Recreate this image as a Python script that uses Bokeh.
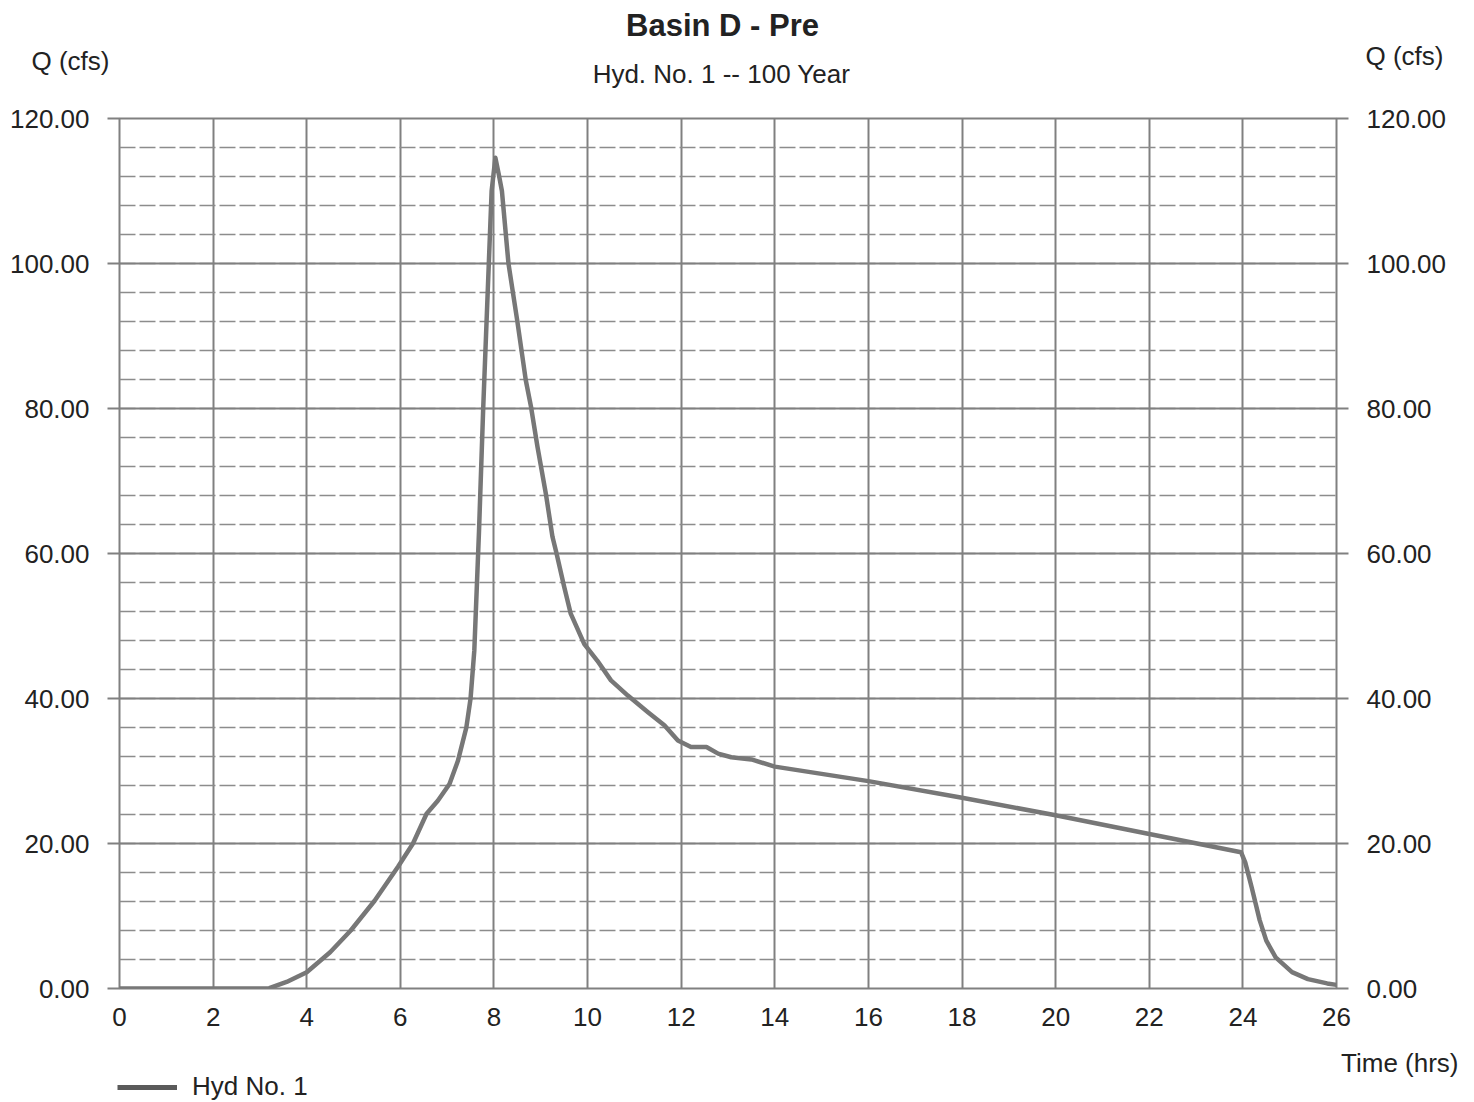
from bokeh.plotting import figure
from bokeh.layouts import column
from bokeh.models import (Range1d, LinearAxis, SingleIntervalTicker, PrintfTickFormatter,
                          Label, Legend, LegendItem, ColumnDataSource)
from bokeh.embed import file_html
from bokeh.resources import INLINE

# Hydrograph ordinates: time (hrs) and discharge Q (cfs)
time_hrs = [0, 1, 2, 3, 3.2, 3.57, 4.0, 4.5, 4.94, 5.45, 5.95, 6.27, 6.56, 6.8, 7.05,
            7.23, 7.41, 7.5, 7.58, 7.68, 7.77, 7.89, 7.95, 8.03, 8.1, 8.17, 8.31, 8.5,
            8.68, 8.79, 8.93, 9.11, 9.25, 9.33, 9.5, 9.64, 9.93, 10.21, 10.5, 10.86,
            11.29, 11.64, 11.93, 12.21, 12.54, 12.79, 13.07, 13.5, 14.0, 16.0, 18.0,
            20.0, 22.0, 23.96, 24.05, 24.19, 24.36, 24.5, 24.7, 25.05, 25.39, 25.8, 26.0]
flow_cfs = [0, 0, 0, 0, 0.05, 0.9, 2.25, 5.0, 8.0, 12.1, 16.8, 20.0, 24.1, 25.9, 28.2,
            31.4, 36.0, 40.0, 46.6, 63.0, 80.0, 100.0, 110.0, 114.6, 112.4, 110.0, 100.0, 92.0,
            83.9, 80.3, 74.7, 68.2, 62.3, 60.2, 55.4, 51.7, 47.5, 45.2, 42.5, 40.4,
            38.1, 36.3, 34.2, 33.3, 33.3, 32.4, 31.9, 31.6, 30.6, 28.6, 26.3,
            23.9, 21.3, 18.8, 17.4, 13.9, 9.4, 6.6, 4.3, 2.25, 1.3, 0.7, 0.5]

title_text = "Basin D - Pre"
subtitle_text = "Hyd. No. 1 -- 100 Year"
y_label = "Q (cfs)"
x_label = "Time (hrs)"
series_name = "Hyd No. 1"

X_MAX, Y_MAX = 26, 120
FONT = "Liberation Sans"
TEXT = "#222222"
GRID = "#808080"
CURVE = "#777777"

W = 1474
HEADER_H = 100          # title band
MAIN_H = 940            # chart band (frame 870 px tall)
FOOTER_H = 1102 - HEADER_H - MAIN_H
LEFT, RIGHT = 119, 1336


def free_frame(f):
    # keep each band's frame independent of its neighbours in the column
    if hasattr(f, "frame_align"):
        f.frame_align = False
    return f


def text_band(height, x_start=0):
    """A bare figure whose data units are page pixels (y measured downward)."""
    f = figure(width=W, height=height, x_range=Range1d(x_start, W),
               y_range=Range1d(height, 0), x_axis_type=None, y_axis_type=None,
               output_backend="svg", toolbar_location=None,
               min_border_left=x_start, min_border_right=0,
               min_border_top=0, min_border_bottom=0)
    f.outline_line_color = None
    f.background_fill_color = "white"
    f.border_fill_color = "white"
    return free_frame(f)


def add_text(f, x, y, text, size, align="left", bold=False):
    f.add_layout(Label(x=x, y=y, text=text, text_font=FONT, text_font_size=size,
                       text_color=TEXT, text_align=align, text_baseline="middle",
                       text_font_style="bold" if bold else "normal"))


# ---- header: titles and the Q (cfs) captions over both axes
header = text_band(HEADER_H)
add_text(header, 722, 25, title_text, "31px", align="center", bold=True)
add_text(header, 721, 73, subtitle_text, "26px", align="center")
add_text(header, 31, 60, y_label, "26px")
add_text(header, 1365, 55, y_label, "26px")

# ---- main hydrograph
p = figure(width=W, height=MAIN_H, x_range=Range1d(0, X_MAX), y_range=Range1d(0, Y_MAX),
           output_backend="svg", toolbar_location=None,
           min_border_left=LEFT, min_border_right=W - RIGHT,
           min_border_top=18, min_border_bottom=52)
free_frame(p)
p.background_fill_color = "white"
p.border_fill_color = "white"
p.outline_line_color = GRID
p.outline_line_width = 2

x_ticker = SingleIntervalTicker(interval=2, num_minor_ticks=0)
y_ticker = SingleIntervalTicker(interval=20, num_minor_ticks=5)
p.xaxis.ticker = x_ticker
p.yaxis.ticker = y_ticker
p.xgrid.ticker = x_ticker
p.ygrid.ticker = y_ticker

p.xgrid.grid_line_color = GRID
p.xgrid.grid_line_width = 2
p.ygrid.grid_line_color = GRID
p.ygrid.grid_line_width = 2
p.ygrid.minor_grid_line_color = "#8c8c8c"
p.ygrid.minor_grid_line_width = 1.5
p.ygrid.minor_grid_line_dash = "16 4"

right_axis = LinearAxis(ticker=y_ticker)
p.add_layout(right_axis, "right")

for ax in (p.yaxis[0], right_axis):
    ax.formatter = PrintfTickFormatter(format="%.2f")
    ax.axis_line_color = None
    ax.major_tick_line_color = GRID
    ax.major_tick_line_width = 2
    ax.major_tick_out = 12
    ax.major_tick_in = 0
    ax.minor_tick_line_color = None
    ax.major_label_text_font = FONT
    ax.major_label_text_font_size = "26px"
    ax.major_label_text_color = TEXT
    ax.major_label_standoff = 18

xa = p.xaxis[0]
xa.axis_line_color = None
xa.major_tick_line_color = None
xa.major_tick_out = 0
xa.major_tick_in = 0
xa.minor_tick_line_color = None
xa.major_label_text_font = FONT
xa.major_label_text_font_size = "26px"
xa.major_label_text_color = TEXT
xa.major_label_standoff = 19

src = ColumnDataSource(data=dict(t=time_hrs, q=flow_cfs))
p.line("t", "q", source=src, line_color=CURVE, line_width=4.5,
       line_join="round", line_cap="round")

# ---- footer: x caption and the legend
footer = text_band(FOOTER_H, x_start=117)
add_text(footer, 1458, 22, x_label, "26px", align="right")
# legend key: a line renderer holding a single undefined point, so only its key is drawn
key = footer.line(x=[float("nan")], y=[float("nan")], line_color="#5a5a5a", line_width=5)
legend = Legend(items=[LegendItem(label=series_name, renderers=[key])],
                location="bottom_left", border_line_color=None, background_fill_alpha=0,
                padding=0, margin=0, spacing=0, glyph_width=60, glyph_height=28,
                label_standoff=15, label_text_font=FONT, label_text_font_size="26px",
                label_text_color=TEXT)
footer.add_layout(legend, "center")

page = column(header, p, footer, spacing=0)
open("out.html", "w").write(file_html(page, INLINE))
